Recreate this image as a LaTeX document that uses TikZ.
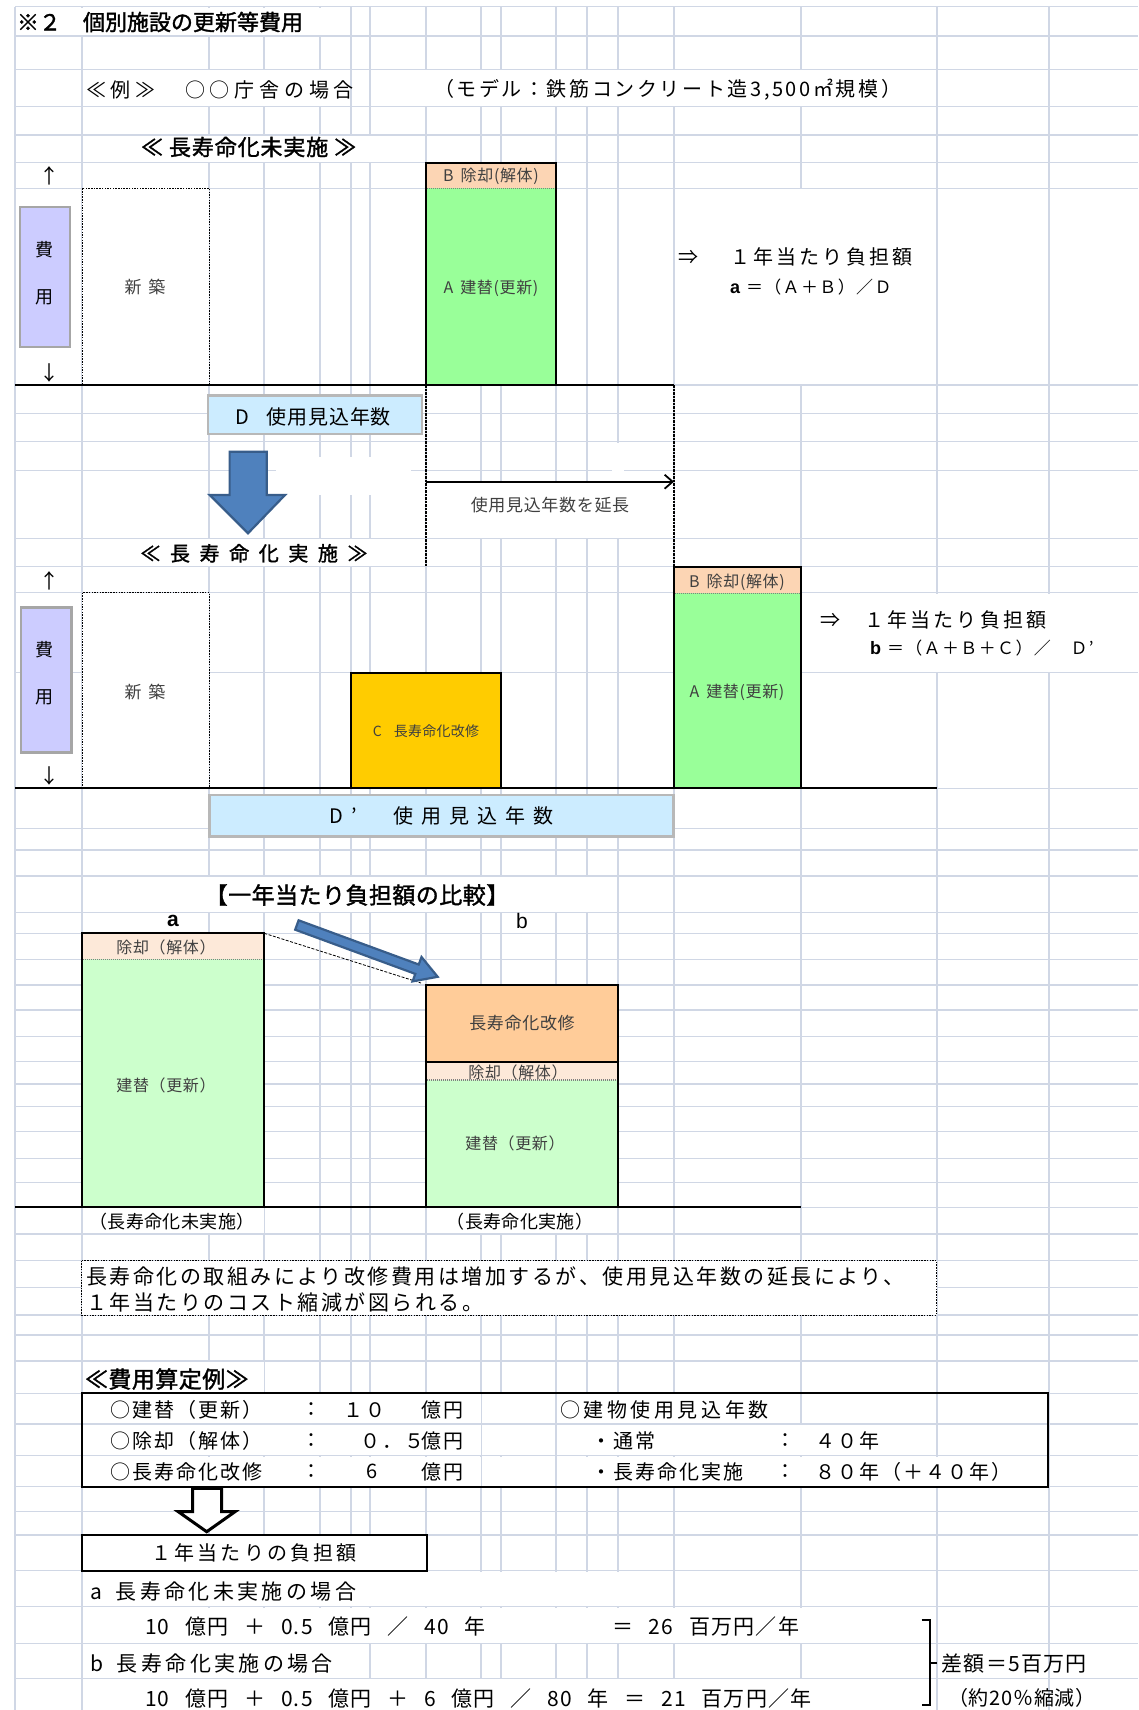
\documentclass[tikz,border=0pt]{standalone}
\usepackage{fontspec}
\setmainfont{Noto Sans CJK JP}
\newfontfamily\jp{Noto Sans CJK JP}
\newfontfamily\jpb[FakeBold=1.5]{Noto Sans CJK JP}
\newfontfamily\lat{Liberation Sans}
\usetikzlibrary{arrows.meta}
\newcommand\fz[1]{\fontsize{#1}{#1}\selectfont}
\newcommand\ls[1]{\addfontfeatures{LetterSpace=#1}}
\newcommand\hs{\hspace{0.75em}}
\definecolor{gridc}{HTML}{D0D7E5}
\definecolor{lav}{HTML}{CCCCFF}
\definecolor{peach}{HTML}{FCD5B4}
\definecolor{brgreen}{HTML}{99FF99}
\definecolor{skyb}{HTML}{CCECFF}
\definecolor{gold}{HTML}{FFCC00}
\definecolor{lpeach}{HTML}{FDE9D9}
\definecolor{lgreen}{HTML}{CCFFCC}
\definecolor{lorange}{HTML}{FFCC99}
\definecolor{arrblue}{HTML}{4F81BD}
\definecolor{arrblueb}{HTML}{385D8A}
\definecolor{boxgray}{HTML}{A6A6A6}
\definecolor{txtgray}{HTML}{404040}
\tikzset{
  gridline/.style={draw=gridc, line width=1.3pt},
  thickb/.style={draw=black, line width=2pt},
  dotb/.style={draw=black, line width=1pt, dash pattern=on 1.5pt off 1.2pt, fill=white},
  dashv/.style={draw=black, line width=1.3pt, dash pattern=on 2.5pt off 1pt},
  sepdot/.style={draw=gray, line width=1.3pt, dash pattern=on 1pt off 1pt},
  bluearr/.style={fill=arrblue, draw=arrblueb, line width=2.2pt, line join=miter},
  lavbox/.style={fill=lav, draw=boxgray, line width=2.5pt},
  skybox/.style={fill=skyb, draw=boxgray!80, line width=2.5pt},
  body/.style={font=\jp\fz{20}\ls{10}},
  small/.style={font=\jp\fz{16}\ls{4}, text=txtgray},
}
\begin{document}
\begin{tikzpicture}[x=1pt,y=-1pt, every node/.style={inner sep=0pt,outer sep=0pt}]
\useasboundingbox (0,0) rectangle (1138,1710);
\fill[white] (0,0) rectangle (1138,1710);
% ---------------- grid
\foreach \x in {15,82,209,264,320,351,370,426,481,501,556,587,618,674,801,937,1049}
  \draw[gridline] (\x,6.7) -- (\x,1710);
\foreach \y in {6.7,36,69.3,106.7,135,162.7,188.3,385,413.3,441.7,470.7,538.3,566.7,592.7,672.7,788.3,828.3,850,876,912.7,933.3,959.3,985,1010,1036.7,1061.7,1084,1106.7,1131.7,1158.3,1182.7,1207.3,1234,1260.7,1287.3,1315,1335,1361,1393.3,1424,1455.7,1486.7,1511.7,1535,1570.7,1606.7,1643.3,1678.3}
  \draw[gridline] (15,\y) -- (1138,\y);
% ---------------- hidden grid (merged / overflow cells)
\fill[white] (16,7.6) rectangle (350.2,35.2);
\fill[white] (82.8,70.1) rectangle (350.2,105.9);
\fill[white] (370.8,70.1) rectangle (936.2,105.9);
\fill[white] (82.8,135.8) rectangle (425.3,161.9);
\fill[white] (674.8,189.1) rectangle (936.2,384.2);
\fill[white] (612,442.5) rectangle (624,480.9);
\fill[white] (275.5,456.7) rectangle (411,495);
\fill[white] (426,481.7) rectangle (674,538.3);
\fill[white] (82.8,539.1) rectangle (425.3,565.9);
\fill[white] (801.5,593.5) rectangle (1138,671.9);
\fill[white] (82.8,876.8) rectangle (617.2,911.9);
\fill[white] (82.8,1208.1) rectangle (263.5,1233.2);
\fill[white] (427,1208.1) rectangle (617.2,1233.2);
\fill[white] (82.8,1361.8) rectangle (263.5,1392.5);
\foreach \a/\b in {1394.1/1423.2,1424.8/1454.9,1456.5/1485.9}{
  \fill[white] (82.5,\a) rectangle (480.9,\b);
  \fill[white] (482.5,\a) rectangle (555.2,\b);}
\fill[white] (556.8,1394.1) rectangle (800.2,1423.2);
\fill[white] (556.8,1424.8) rectangle (936.2,1454.9);
\fill[white] (556.8,1456.5) rectangle (1047.5,1485.9);
\fill[white] (82.8,1571.5) rectangle (673,1605.9);
\fill[white] (82.8,1607.5) rectangle (936.2,1642.5);
\fill[white] (82.8,1644.1) rectangle (369.2,1677.5);
\fill[white] (82.8,1679.1) rectangle (936.2,1710);

% ================= Section 1 : not implemented
\node[font=\jpb\fz{22}, anchor=west] (title) at (17,22) {※２　個別施設の更新等費用};
\node[font=\jp\fz{20}\ls{24}, anchor=west] (example) at (86,90) {≪例≫　○○庁舎の場合};
\node[font=\jp\fz{20}\ls{13}, anchor=west] (model) at (434,90) {（モデル：鉄筋コンクリート造3,500㎡規模）};
\node[font=\jpb\fz{22}\ls{4}, anchor=west] (headA) at (141,147) {≪\hspace{6pt}長寿命化未実施\hspace{6pt}≫};

\node[font=\jp\fz{20}] (upA) at (49,176) {↑};
\node[font=\jp\fz{20}] (downA) at (49,373) {↓};
\draw[lavbox] (20,207) rectangle (70,347);
\node[font=\jp\fz{18}] (hiA) at (44,250) {費};
\node[font=\jp\fz{18}] (yoA) at (44,297) {用};
\draw[dotb] (82.3,188.3) rectangle (209.3,385);
\node[font=\jp\fz{17}, text=txtgray] (shinA) at (145,287) {新\hspace{7pt}築};

\fill[peach] (426,162.7) rectangle (556,188.3);
\fill[brgreen] (426,188.3) rectangle (556,385);
\draw[sepdot] (427,188.3) -- (555,188.3);
\draw[thickb] (426,162.7) rectangle (556,385);
\node[small] (Blab) at (491,176) {B\hspace{7pt}除却(解体)};
\node[small] (Alab) at (491,288) {A\hspace{7pt}建替(更新)};
\draw[line width=2.2pt] (15,385) -- (674,385);

\node[font=\jp\fz{20}, anchor=west] (thenA) at (678,257) {⇒};
\node[font=\jp\fz{20}\ls{16}, anchor=west] (perA) at (730,257) {１年当たり負担額};
\node[anchor=west] (fA) at (730,287) {{\lat\bfseries\fz{18}a}\hspace{6pt}{\jp\fz{17}\ls{8}＝（Ａ＋Ｂ）／Ｄ}};

\draw[skybox] (208,395.7) rectangle (422,434);
\node[font=\jp\fz{20}\ls{4}] (Dlab) at (313,416.5) {D\hspace{18pt}使用見込年数};

% big down arrow
\draw[bluearr] (229.6,451.7) -- (266.7,451.7) -- (266.7,495) -- (285,495) -- (248,533.3) -- (209.7,495) -- (229.6,495) -- cycle;

% extension box
\node[font=\jp\fz{17}\ls{4}, text=txtgray] (extlab) at (550,505) {使用見込年数を延長};
\coordinate (extL) at (426,481.7);
\coordinate (extR) at (674,481.7);
\draw[line width=1.8pt, -{Straight Barb[length=8pt,width=14pt]}] (extL) -- (extR);
\coordinate (dvA1) at (426,385); \coordinate (dvA2) at (426,566.7);
\coordinate (dvB1) at (674,385); \coordinate (dvB2) at (674,566.7);
\draw[dashv] (dvA1) -- (dvA2);
\draw[dashv] (dvB1) -- (dvB2);

% ================= Section 2 : implemented
\node[font=\jpb\fz{20}\ls{48}] (headB) at (254,553.3) {≪長寿命化実施≫};
\node[font=\jp\fz{20}] (upB) at (49,581) {↑};
\node[font=\jp\fz{20}] (downB) at (49,776) {↓};
\draw[lavbox] (21,607.7) rectangle (71.6,752.7);
\node[font=\jp\fz{18}] (hiB) at (44,650) {費};
\node[font=\jp\fz{18}] (yoB) at (44,697) {用};
\draw[dotb] (82.3,592.7) rectangle (209.3,788.3);
\node[font=\jp\fz{17}, text=txtgray] (shinB) at (145,692) {新\hspace{7pt}築};

\fill[gold] (351.3,672.7) rectangle (500.6,788.3);
\draw[thickb] (351.3,672.7) rectangle (500.6,788.3);
\node[font=\jp\fz{14}\ls{2}, text=txtgray] (Clab) at (426,731) {C\hspace{12pt}長寿命化改修};

\fill[peach] (673.5,567.3) rectangle (800.7,593.3);
\fill[brgreen] (673.5,593.3) rectangle (800.7,788.3);
\draw[sepdot] (674.5,593.3) -- (799.7,593.3);
\draw[thickb] (673.5,567.3) rectangle (800.7,788.3);
\node[small] (Blab2) at (737,582.5) {B\hspace{7pt}除却(解体)};
\node[small] (Alab2) at (737,692) {A\hspace{7pt}建替(更新)};
\draw[line width=2.2pt] (15,788.3) -- (936.7,788.3);

\node[font=\jp\fz{20}, anchor=west] (thenB) at (820,620) {⇒};
\node[font=\jp\fz{20}\ls{16}, anchor=west] (perB) at (864,620) {１年当たり負担額};
\node[anchor=west] (fB) at (870,648.3) {{\lat\bfseries\fz{18}b}\hspace{6pt}{\jp\fz{17}\ls{8}＝（Ａ＋Ｂ＋Ｃ）／　Ｄ’}};

\draw[skybox] (209.7,795) rectangle (673.5,836.7);
\node[font=\jp\fz{20}\ls{40}] (Dlab2) at (441.6,816) {D’　使用見込年数};

% ================= Section 3 : comparison
\node[font=\jpb\fz{23}\ls{2}] (cmpT) at (357,895) {【一年当たり負担額の比較】};
\node[font=\lat\bfseries\fz{21}] (la) at (173,921) {a};
\node[font=\lat\fz{21}] (lb) at (522,921) {b};

\fill[lpeach] (81.7,933.3) rectangle (264.3,959.3);
\fill[lgreen] (81.7,959.3) rectangle (264.3,1207.3);
\draw[sepdot] (82.7,959.3) -- (263.3,959.3);
\draw[thickb] (81.7,933.3) rectangle (264.3,1207.3);
\node[small] (aB) at (166,947.3) {除却（解体）};
\node[small] (aA) at (166,1085) {建替（更新）};

\fill[lorange] (426.3,985) rectangle (618.3,1061.7);
\fill[lpeach] (426.3,1061.7) rectangle (618.3,1080);
\fill[lgreen] (426.3,1080) rectangle (618.3,1207.3);
\node[font=\jp\fz{17}\ls{4}, text=txtgray] (bC) at (522,1023.3) {長寿命化改修};
\node[small] (bB) at (518,1072) {除却（解体）};
\draw[sepdot] (427.3,1080) -- (617.3,1080);
\draw[thickb] (426.3,1061.7) -- (618.3,1061.7);
\draw[thickb] (426.3,985) rectangle (618.3,1207.3);
\node[small] (bA) at (515,1143.3) {建替（更新）};
\draw[line width=2.2pt] (15,1207.3) -- (801,1207.3);

\node[font=\jp\fz{18}\ls{2}] (capA) at (172,1221.7) {（長寿命化未実施）};
\node[font=\jp\fz{18}\ls{2}] (capB) at (520,1221.7) {（長寿命化実施）};

\coordinate (aTop) at (264.3,933.3);
\coordinate (bTop) at (421,983);
\draw[line width=0.8pt, dash pattern=on 3pt off 1.5pt] (aTop) -- (bTop);
\begin{scope}[shift={(296.9,925)}, rotate=-20.2]
  \draw[bluearr] (0,-5) -- (128,-5) -- (128,-13) -- (150,0) -- (128,13) -- (128,5) -- (0,5) -- cycle;
\end{scope}

% ================= Section 4 : text and calculation
\draw[dotb] (81.7,1260.7) rectangle (936.7,1315);
\node[font=\jp\fz{21}\ls{12}, anchor=west] (note1) at (86,1276.7) {長寿命化の取組みにより改修費用は増加するが、使用見込年数の延長により、};
\node[font=\jp\fz{21}\ls{12}, anchor=west] (note2) at (86,1302) {１年当たりのコスト縮減が図られる。};

\node[font=\jpb\fz{23}\ls{2}, anchor=west] (calcT) at (85,1379) {≪費用算定例≫};
\draw[thickb] (81.7,1393.3) rectangle (1048.3,1486.7);
\node[body, anchor=west] (r1a) at (110,1410) {○建替（更新）};
\node[body] (r1b) at (311.7,1410) {：};
\node[body, anchor=west] (r1c) at (343,1410) {１０};
\node[body, anchor=west] (r1d) at (421.7,1410) {億円};
\node[body, anchor=west] (r2a) at (110,1440.7) {○除却（解体）};
\node[body] (r2b) at (311.7,1440.7) {：};
\node[body, anchor=west] (r2c) at (360,1440.7) {０．５};
\node[body, anchor=west] (r2d) at (421.7,1440.7) {億円};
\node[body, anchor=west] (r3a) at (110,1471.7) {○長寿命化改修};
\node[body] (r3b) at (311.7,1471.7) {：};
\node[body] (r3c) at (372,1471.7) {6};
\node[body, anchor=west] (r3d) at (421.7,1471.7) {億円};
\node[font=\jp\fz{20}\ls{18}, anchor=west] (s1a) at (560,1410) {○建物使用見込年数};
\node[body, anchor=west] (s2a) at (591.7,1440.7) {・通常};
\node[body] (s2b) at (785,1440.7) {：};
\node[body, anchor=west] (s2c) at (815,1440.7) {４０年};
\node[body, anchor=west] (s3a) at (591.7,1471.7) {・長寿命化実施};
\node[body] (s3b) at (785,1471.7) {：};
\node[body, anchor=west] (s3c) at (815,1471.7) {８０年（＋４０年）};

\draw[fill=white, draw=black, line width=3pt, line join=miter] (192.7,1488.3) -- (221.7,1488.3) -- (221.7,1511.7) -- (235,1511.7) -- (206.7,1531.7) -- (178.3,1511.7) -- (192.7,1511.7) -- cycle;

\draw[thickb, fill=white] (81.7,1535) rectangle (426.7,1570.7);
\node[font=\jp\fz{20}\ls{16}] (perY) at (254,1553) {１年当たりの負担額};
\node[font=\jp\fz{21}\ls{16}, anchor=west] (caseA) at (90,1591.7) {a\hspace{14pt}長寿命化未実施の場合};
\node[font=\jp\fz{21}\ls{6}, anchor=west] (eqA) at (145,1626.7) {10\hs 億円\hs ＋\hs 0.5\hs 億円\hs ／\hs 40\hs 年};
\node[font=\jp\fz{21}\ls{6}, anchor=west] (resA) at (612,1626.7) {＝\hs 26\hs 百万円／年};
\node[font=\jp\fz{21}\ls{16}, anchor=west] (caseB) at (90,1663.3) {b\hspace{14pt}長寿命化実施の場合};
\node[font=\jp\fz{21}\ls{6}, anchor=west] (eqB) at (145,1698.3) {10\hs 億円\hs ＋\hs 0.5\hs 億円\hs ＋\hs 6\hs 億円\hs ／\hs 80\hs 年\hs ＝\hs 21\hs 百万円／年};

\coordinate (brT) at (921.7,1620);
\coordinate (brB) at (921.7,1705);
\draw[line width=2pt] (brT) -- (930,1620) -- (930,1705) -- (brB);
\draw[line width=2pt] (930,1663.3) -- (937,1663.3);
\node[font=\jp\fz{21}\ls{6}, anchor=west] (diff) at (941.7,1663.3) {差額＝5百万円};
\node[font=\jp\fz{20}\ls{4}, anchor=west] (pct) at (948,1698) {（約20％縮減）};
\end{tikzpicture}
\end{document}
